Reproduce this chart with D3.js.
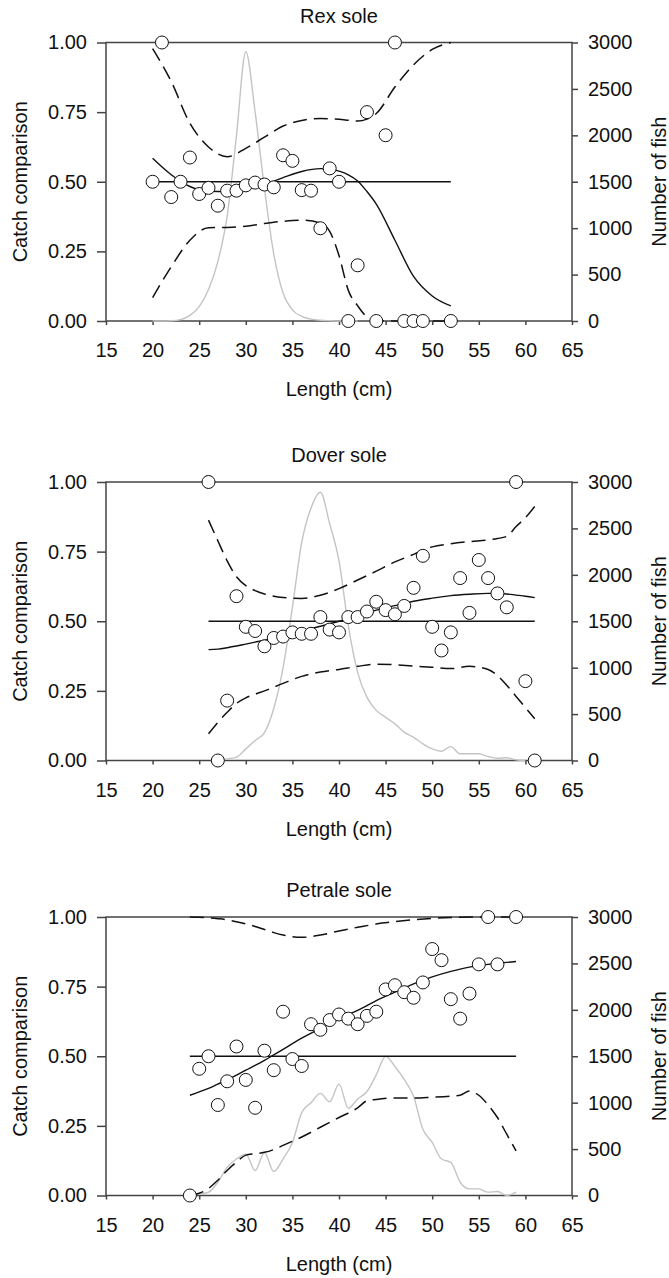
<!DOCTYPE html>
<html lang="en">
<head>
<meta charset="UTF-8">
<title>Catch comparison</title>
<script src="https://cdn.jsdelivr.net/npm/d3@7"></script>
<style>
  body { margin: 0; background: #fff; }
  svg text { font-family: "Liberation Sans", Arial, sans-serif; fill: #111; }
  .frame { fill: none; stroke: #444; stroke-width: 1.5px; }
  .axis path { display: none; }
  .axis line { stroke: #444; stroke-width: 1.5px; }
  .axis text { font-size: 20px; }
  .fit { fill: none; stroke: #111; stroke-width: 1.4px; }
  .ci { fill: none; stroke: #111; stroke-width: 1.5px; stroke-dasharray: 14,7; }
  .half { stroke: #111; stroke-width: 1.5px; }
  .fish { fill: none; stroke: #c4c4c4; stroke-width: 1.4px; }
  .obs { fill: #fff; stroke: #111; stroke-width: 1px; }
</style>
</head>
<body>
<svg width="669" height="1278"></svg>
<script>

// ---- data ----
var speciesNames = ["Rex sole", "Dover sole", "Petrale sole"];
var xTicks = [15, 20, 25, 30, 35, 40, 45, 50, 55, 60, 65];
var leftTicks = [0, 0.25, 0.5, 0.75, 1];
var rightTicks = [0, 500, 1000, 1500, 2000, 2500, 3000];

// Rex sole
var rexObsLen  = [20, 21, 22, 23, 24, 25, 26, 27, 28, 29, 30, 31, 32, 33, 34, 35, 36, 37, 38, 39, 40, 41, 42, 43, 44, 45, 46, 47, 48, 49, 52];
var rexObsProp = [0.50, 1.00, 0.445, 0.50, 0.587, 0.456, 0.478, 0.414, 0.468, 0.468, 0.487, 0.497, 0.49, 0.48, 0.595, 0.575, 0.47, 0.468, 0.333, 0.548, 0.50, 0, 0.20, 0.75, 0, 0.667, 1.00, 0, 0, 0, 0];
var rexGrid  = [20, 22, 24, 26, 28, 30, 32, 34, 36, 38, 39, 40, 41, 42, 43, 44, 46, 48, 50, 52];
var rexFit   = [0.584, 0.525, 0.483, 0.466, 0.465, 0.474, 0.49, 0.515, 0.537, 0.547, 0.546, 0.538, 0.525, 0.503, 0.465, 0.42, 0.29, 0.16, 0.09, 0.054];
var rexUpper = [0.978, 0.86, 0.71, 0.625, 0.59, 0.62, 0.66, 0.70, 0.72, 0.727, 0.726, 0.724, 0.721, 0.718, 0.725, 0.745, 0.84, 0.92, 0.975, 1.0];
var rexLower = [0.084, 0.195, 0.29, 0.335, 0.336, 0.34, 0.35, 0.358, 0.362, 0.352, 0.322, 0.235, 0.11, 0.055, 0.015, 0.003, 0, 0, 0, 0];
var rexFishLen = [20, 21, 22, 23, 24, 25, 26, 27, 28, 29, 30, 31, 32, 33, 34, 35, 36, 37, 38, 39, 40, 41, 42];
var rexFish    = [0, 0, 2, 15, 60, 155, 340, 640, 1130, 2000, 2900, 2250, 1430, 720, 300, 120, 50, 20, 8, 3, 0, 0, 0];

// Dover sole
var doverObsLen  = [26, 27, 28, 29, 30, 31, 32, 33, 34, 35, 36, 37, 38, 39, 40, 41, 42, 43, 44, 45, 46, 47, 48, 49, 50, 51, 52, 53, 54, 55, 56, 57, 58, 59, 60, 61];
var doverObsProp = [1.00, 0, 0.215, 0.59, 0.48, 0.465, 0.41, 0.44, 0.445, 0.46, 0.455, 0.455, 0.515, 0.47, 0.46, 0.515, 0.515, 0.535, 0.57, 0.54, 0.525, 0.555, 0.62, 0.735, 0.48, 0.395, 0.46, 0.655, 0.53, 0.72, 0.655, 0.60, 0.55, 1.00, 0.285, 0];
var doverGrid  = [26, 27, 28, 29, 30, 31, 32, 34, 36, 38, 40, 42, 44, 46, 48, 50, 52, 54, 56, 57, 58, 59, 60, 61];
var doverFit   = [0.398, 0.40, 0.405, 0.411, 0.418, 0.425, 0.432, 0.448, 0.465, 0.482, 0.50, 0.52, 0.54, 0.556, 0.572, 0.583, 0.592, 0.597, 0.60, 0.60, 0.598, 0.594, 0.59, 0.585];
var doverUpper = [0.863, 0.789, 0.717, 0.66, 0.628, 0.61, 0.598, 0.585, 0.582, 0.593, 0.617, 0.648, 0.68, 0.713, 0.74, 0.767, 0.778, 0.786, 0.792, 0.797, 0.805, 0.84, 0.872, 0.912];
var doverLower = [0.096, 0.137, 0.173, 0.205, 0.225, 0.238, 0.25, 0.277, 0.302, 0.318, 0.327, 0.338, 0.346, 0.344, 0.339, 0.335, 0.33, 0.338, 0.327, 0.305, 0.27, 0.23, 0.19, 0.15];
var doverFishLen = [27, 28, 29, 30, 31, 32, 33, 34, 35, 36, 37, 38, 39, 40, 41, 42, 43, 44, 45, 46, 47, 48, 49, 50, 51, 52, 53, 54, 55, 56, 57, 58, 59, 60];
var doverFish    = [0, 18, 36, 125, 215, 300, 560, 1000, 1650, 2350, 2720, 2890, 2550, 2150, 1450, 950, 680, 540, 465, 395, 305, 250, 180, 125, 100, 150, 72, 72, 72, 43, 25, 29, 7, 0];

// Petrale sole
var petraleObsLen  = [24, 25, 26, 27, 28, 29, 30, 31, 32, 33, 34, 35, 36, 37, 38, 39, 40, 41, 42, 43, 44, 45, 46, 47, 48, 49, 50, 51, 52, 53, 54, 55, 56, 57, 59];
var petraleObsProp = [0, 0.455, 0.50, 0.325, 0.41, 0.535, 0.415, 0.315, 0.52, 0.45, 0.66, 0.49, 0.465, 0.615, 0.595, 0.63, 0.65, 0.635, 0.615, 0.645, 0.66, 0.74, 0.755, 0.73, 0.71, 0.765, 0.885, 0.845, 0.705, 0.635, 0.725, 0.83, 1.00, 0.83, 1.00];
var petraleGrid  = [24, 25, 26, 27, 28, 29, 30, 31, 32, 33, 34, 36, 38, 40, 42, 43, 44, 46, 48, 50, 52, 53, 54, 55, 56, 57, 58, 59];
var petraleFit   = [0.36, 0.372, 0.385, 0.40, 0.415, 0.432, 0.45, 0.467, 0.485, 0.505, 0.525, 0.565, 0.60, 0.635, 0.665, 0.682, 0.70, 0.73, 0.76, 0.785, 0.805, 0.813, 0.82, 0.825, 0.83, 0.834, 0.837, 0.84];
var petraleUpper = [1.0, 0.999, 0.997, 0.994, 0.99, 0.983, 0.975, 0.966, 0.955, 0.944, 0.935, 0.927, 0.935, 0.95, 0.963, 0.969, 0.975, 0.983, 0.99, 0.995, 0.998, 0.999, 1, 1, 1, 1, 1, 1];
var petraleLower = [0, 0.008, 0.025, 0.055, 0.09, 0.12, 0.145, 0.15, 0.155, 0.165, 0.18, 0.21, 0.245, 0.28, 0.315, 0.34, 0.345, 0.35, 0.35, 0.353, 0.357, 0.36, 0.375, 0.36, 0.325, 0.28, 0.22, 0.16];
var petraleFishLen = [25, 26, 27, 28, 29, 30, 31, 32, 33, 34, 35, 36, 37, 38, 39, 40, 41, 42, 43, 44, 45, 46, 47, 48, 49, 50, 51, 52, 53, 54, 55, 56, 57, 58, 59];
var petraleFish    = [15, 35, 143, 304, 393, 446, 268, 464, 257, 393, 571, 893, 1000, 1100, 1010, 1200, 940, 1040, 1120, 1300, 1500, 1390, 1250, 1070, 714, 571, 393, 357, 143, 71, 71, 36, 43, 0, 36];

// ---- layout ----
var svg = d3.select("svg");
var left = 106, right = 572, plotH = 278.5;
var tops = [42.5, 482, 917];

var panels = [
  { obsLen: rexObsLen, obsProp: rexObsProp, grid: rexGrid, fit: rexFit, upper: rexUpper, lower: rexLower, fishLen: rexFishLen, fish: rexFish },
  { obsLen: doverObsLen, obsProp: doverObsProp, grid: doverGrid, fit: doverFit, upper: doverUpper, lower: doverLower, fishLen: doverFishLen, fish: doverFish },
  { obsLen: petraleObsLen, obsProp: petraleObsProp, grid: petraleGrid, fit: petraleFit, upper: petraleUpper, lower: petraleLower, fishLen: petraleFishLen, fish: petraleFish }
];

var x = d3.scaleLinear().domain([15, 65]).range([left, right]);

panels.forEach(function(p, i) {
  var top = tops[i], bottom = top + plotH;
  var y = d3.scaleLinear().domain([0, 1]).range([bottom, top]);
  var y2 = d3.scaleLinear().domain([0, 3000]).range([bottom, top]);
  var g = svg.append("g");

  // axes
  g.append("g").attr("class", "axis")
    .attr("transform", "translate(0," + bottom + ")")
    .call(d3.axisBottom(x).tickValues(xTicks).tickSize(4).tickPadding(18));
  g.append("g").attr("class", "axis")
    .attr("transform", "translate(" + left + ",0)")
    .call(d3.axisLeft(y).tickValues(leftTicks).tickSize(9).tickPadding(10).tickFormat(d3.format(".2f")));
  g.append("g").attr("class", "axis")
    .attr("transform", "translate(" + right + ",0)")
    .call(d3.axisRight(y2).tickValues(rightTicks).tickSize(6).tickPadding(10).tickFormat(d3.format("d")));

  g.append("rect").attr("class", "frame")
    .attr("x", left).attr("y", top).attr("width", right - left).attr("height", plotH);

  // titles
  g.append("text").attr("x", (left + right) / 2).attr("y", top - 20)
    .attr("text-anchor", "middle").style("font-size", "20px").text(speciesNames[i]);
  g.append("text").attr("x", (left + right) / 2).attr("y", bottom + 75)
    .attr("text-anchor", "middle").style("font-size", "20px").text("Length (cm)");
  g.append("text").attr("transform", "translate(27," + (top + plotH / 2) + ") rotate(-90)")
    .attr("text-anchor", "middle").style("font-size", "20px").text("Catch comparison");
  g.append("text").attr("transform", "translate(666," + (top + plotH / 2) + ") rotate(-90)")
    .attr("text-anchor", "middle").style("font-size", "20px").text("Number of fish");

  // number of fish (right axis)
  var fishLine = d3.line().x(function(d) { return x(d[0]); }).y(function(d) { return y2(d[1]); }).curve(d3.curveMonotoneX);
  g.append("path").attr("class", "fish").attr("d", fishLine(d3.zip(p.fishLen, p.fish)));

  // 0.5 reference line
  var ext = d3.extent(p.grid);
  g.append("line").attr("class", "half")
    .attr("x1", x(ext[0])).attr("x2", x(ext[1])).attr("y1", y(0.5)).attr("y2", y(0.5));

  var line = d3.line().x(function(d) { return x(d[0]); }).y(function(d) { return y(d[1]); }).curve(d3.curveMonotoneX);
  g.append("path").attr("class", "ci").attr("d", line(d3.zip(p.grid, p.upper)));
  g.append("path").attr("class", "ci").attr("d", line(d3.zip(p.grid, p.lower)));
  g.append("path").attr("class", "fit").attr("d", line(d3.zip(p.grid, p.fit)));

  g.selectAll("circle.obs").data(d3.zip(p.obsLen, p.obsProp)).enter().append("circle")
    .attr("class", "obs")
    .attr("cx", function(d) { return x(d[0]); })
    .attr("cy", function(d) { return y(d[1]); })
    .attr("r", 6.5);
});

</script>
</body>
</html>
